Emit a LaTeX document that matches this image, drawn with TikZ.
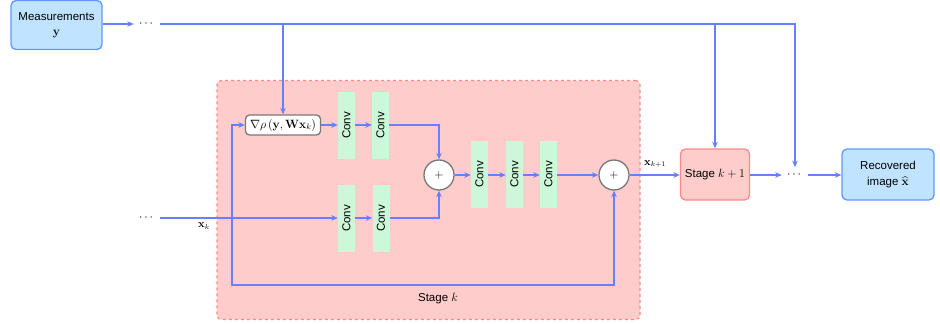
\documentclass[tikz,border=0pt]{standalone}
\usepackage[no-math]{fontspec}
\setmainfont{Liberation Sans}
\usepackage{amsmath}
\usepackage{graphicx}
\usetikzlibrary{arrows.meta}

\definecolor{linecol}{RGB}{102,128,255}
\definecolor{bluefill}{RGB}{192,228,255}
\definecolor{blueborder}{RGB}{100,150,255}
\definecolor{stagefill}{RGB}{255,204,204}
\definecolor{stageborder}{RGB}{255,136,136}
\definecolor{convfill}{RGB}{204,247,216}
\definecolor{sumborder}{RGB}{120,120,120}

\begin{document}
\begin{tikzpicture}[x=1pt,y=-1pt,
  every node/.style={font=\fontsize{11.5}{15}\selectfont},
  bluebox/.style={draw=blueborder,fill=bluefill,line width=1.3pt,rounded corners=5pt,
    align=center,inner sep=0pt},
  stagebox/.style={draw=stageborder,fill=stagefill,line width=1.3pt,rounded corners=5pt,
    align=center,inner sep=0pt},
  convbox/.style={fill=convfill,minimum width=17pt,minimum height=67pt,inner sep=0pt},
  sumnode/.style={circle,draw=sumborder,fill=white,line width=1.3pt,minimum size=30pt,inner sep=0pt},
  gradbox/.style={draw=sumborder,fill=white,line width=1.3pt,rounded corners=4pt,
    minimum width=75pt,minimum height=20pt,inner sep=0pt},
  dots/.style={inner sep=5pt},
  wire/.style={draw=linecol,line width=1.3pt},
  arr/.style={wire,-{Stealth[length=6.5pt,width=5.5pt]}},
  lbl/.style={font=\fontsize{10.5}{12}\selectfont,inner sep=1pt}
]
\useasboundingbox (0,0) rectangle (940,324);

% stage k background
\node[draw=stageborder,fill=stagefill,line width=1.1pt,dashed,rounded corners=4pt,
      minimum width=423pt,minimum height=239pt,inner sep=0pt] (stagek) at (428.5,200) {};
\node (stagelbl) at (438,299) {Stage $k$};

% outer blocks
\node[bluebox,minimum width=91pt,minimum height=49pt] (meas) at (56.5,25)
  {Measurements\\ $\mathbf{y}$};
\node[stagebox,minimum width=69pt,minimum height=51pt] (stage2) at (715,174.5)
  {Stage $k+1$};
\node[bluebox,minimum width=92pt,minimum height=51pt] (rec) at (888,174.5)
  {Recovered\\[1pt] image $\widehat{\mathbf{x}}$};

% dots
\node[dots] (d1) at (147,24) {$\cdots$};
\node[dots] (d2) at (147,218) {$\cdots$};
\node[dots] (d3) at (795,175) {$\cdots$};

% inner blocks
\node[gradbox] (grad) at (283,125) {$\nabla\rho\left(\mathbf{y},\mathbf{W}\mathbf{x}_k\right)$};
\node[convbox] (ca1) at (346.5,125.5) {\rotatebox{90}{Conv}};
\node[convbox] (ca2) at (380.5,125.5) {\rotatebox{90}{Conv}};
\node[convbox] (cb1) at (346.5,218.5) {\rotatebox{90}{Conv}};
\node[convbox] (cb2) at (381,218.5) {\rotatebox{90}{Conv}};
\node[sumnode] (p1) at (439,175) {$+$};
\node[convbox] (cm1) at (479.5,174.5) {\rotatebox{90}{Conv}};
\node[convbox] (cm2) at (514.5,174.5) {\rotatebox{90}{Conv}};
\node[convbox] (cm3) at (548.5,174.5) {\rotatebox{90}{Conv}};
\node[sumnode] (p2) at (614,175) {$+$};

% measurement bus
\draw[arr] (meas.east |- d1) -- (d1.west);
\draw[arr] (d1.east) -- (d1.east -| d3) -- (d3.north);
\draw[arr] (d1.east -| grad) -- (grad.north);
\draw[arr] (d1.east -| stage2) -- (stage2.north);

% upper branch
\draw[arr] (grad.east) -- (ca1.west |- grad.east);
\draw[arr] (ca1.east |- grad.east) -- (ca2.west |- grad.east);
\draw[arr] (ca2.east |- grad.east) -| (p1.north);

% lower branch
\coordinate (split) at (232,218);
\coordinate (loop) at (232,285);
\draw[arr] (d2.east) -- (cb1.west |- d2.east);
\draw[arr] (cb1.east |- d2.east) -- (cb2.west |- d2.east);
\draw[arr] (cb2.east |- d2.east) -| (p1.south);
\draw[arr] (split) |- (grad.west);
\draw[arr] (split) -- (loop) -| (p2.south);
\node[lbl] (xk) at (204,226) {$\mathbf{x}_k$};

% middle chain
\draw[arr] (p1.east) -- (cm1.west |- p1.east);
\draw[arr] (cm1.east |- p1.east) -- (cm2.west |- p1.east);
\draw[arr] (cm2.east |- p1.east) -- (cm3.west |- p1.east);
\draw[arr] (cm3.east |- p1.east) -- (p2.west);

% to next stage and output
\draw[arr] (p2.east) -- (stage2.west |- p2.east);
\node[lbl] (xk1) at (655,164) {$\mathbf{x}_{k+1}$};
\draw[arr] (stage2.east |- d3) -- (d3.west);
\draw[arr] (d3.east) -- (rec.west |- d3.east);
\end{tikzpicture}
\end{document}
